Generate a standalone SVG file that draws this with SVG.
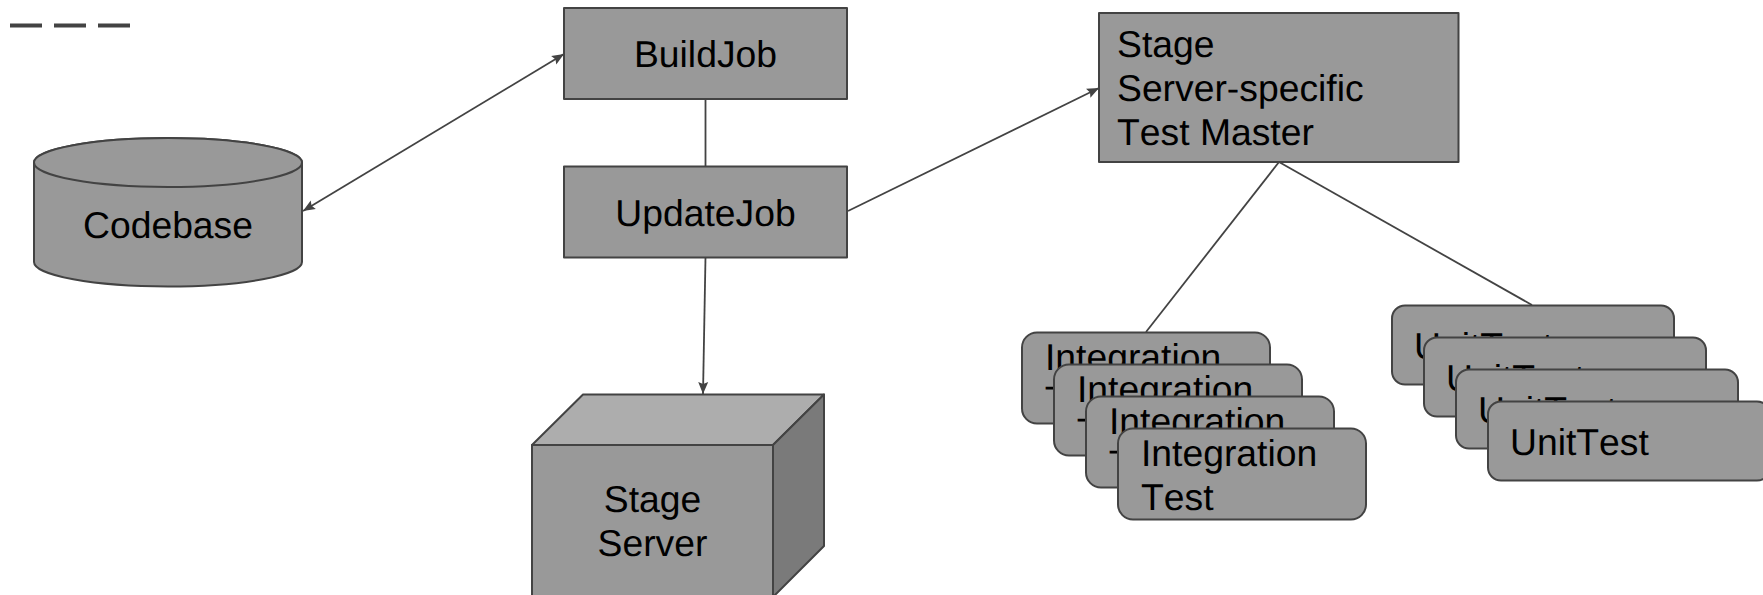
<svg xmlns="http://www.w3.org/2000/svg" width="1763" height="595" viewBox="0 0 1763 595">
<style>
.n{fill:#999999;stroke:#434343;stroke-width:2;stroke-linejoin:round}
.c{fill:none;stroke:#434343;stroke-width:1.8}
text{font-family:"Liberation Sans",Arial,sans-serif;font-size:37.3px;fill:#000;font-kerning:none;text-rendering:geometricPrecision}
.m{text-anchor:middle}
</style>
<defs>
<marker id="a" markerUnits="userSpaceOnUse" markerWidth="14" markerHeight="12" refX="12" refY="5" orient="auto-start-reverse" overflow="visible">
<path d="M0 0L12 5L0 10L2 5Z" fill="#434343"/>
</marker>
</defs>
<rect width="1763" height="595" fill="#fff"/>
<g id="connectors">
<path class="c" d="M303 211L564 54" marker-start="url(#a)" marker-end="url(#a)"/>
<path class="c" d="M705.500 99V166"/>
<path class="c" d="M848 211L1099 88" marker-end="url(#a)"/>
<path class="c" d="M705.500 257L703 394" marker-end="url(#a)"/>
<path class="c" d="M1279 162L1146 332"/>
<path class="c" d="M1279 162L1532 305"/>
</g>
<g id="legend-dash"><path d="M10 25.500H42M54 25.500H86M98 25.500H130" fill="none" stroke="#434343" stroke-width="4"/></g>
<g id="codebase">
<path class="n" d="M34 162.500V262A134 24.500 0 0 0 302 262V162.500A134 24.500 0 0 0 34 162.500Z"/>
<ellipse class="n" cx="168" cy="162.500" rx="134" ry="24.500"/>
<text class="m" x="168" y="238">Codebase</text>
</g>
<g id="buildjob"><rect class="n" x="564" y="8" width="283" height="91"/><text class="m" x="705.500" y="67">BuildJob</text></g>
<g id="updatejob"><rect class="n" x="564" y="166.500" width="283" height="91"/><text class="m" x="705.500" y="226">UpdateJob</text></g>
<g id="stage-server">
<path class="n" d="M532 445L583 394.500H824L773 445Z" style="fill:#adadad"/>
<path class="n" d="M773 445L824 394.500V546L773 597Z" style="fill:#7a7a7a"/>
<rect class="n" x="532" y="445" width="241" height="152"/>
<text class="m" x="652.500" y="512">Stage</text>
<text class="m" x="652.500" y="556">Server</text>
</g>
<g id="test-master">
<rect class="n" x="1099" y="13" width="359.500" height="149"/>
<text x="1117" y="57">Stage</text>
<text x="1117" y="101">Server-specific</text>
<text x="1117" y="145">Test Master</text>
</g>
<g id="integration-1"><rect class="n" x="1022" y="332.500" width="248" height="91" rx="15"/><text x="1045" y="370">Integration</text><text x="1044" y="398">-</text></g>
<g id="integration-2"><rect class="n" x="1054" y="364.500" width="248" height="91" rx="15"/><text x="1077" y="402">Integration</text><text x="1076" y="430">-</text></g>
<g id="integration-3"><rect class="n" x="1086" y="396.500" width="248" height="91" rx="15"/><text x="1109" y="434">Integration</text><text x="1108" y="462">-</text></g>
<g id="integration-4"><rect class="n" x="1118" y="428.500" width="248" height="91" rx="15"/><text x="1141" y="466">Integration</text><text x="1141" y="510">Test</text></g>
<g id="unittest-1"><rect class="n" x="1392" y="305.500" width="282" height="79" rx="13"/><text x="1414" y="359">UnitTest</text></g>
<g id="unittest-2"><rect class="n" x="1424" y="337.500" width="282" height="79" rx="13"/><text x="1446" y="391">UnitTest</text></g>
<g id="unittest-3"><rect class="n" x="1456" y="369.500" width="282" height="79" rx="13"/><text x="1478" y="423">UnitTest</text></g>
<g id="unittest-4"><rect class="n" x="1488" y="401.500" width="282" height="79" rx="13"/><text x="1510" y="455">UnitTest</text></g>
</svg>
